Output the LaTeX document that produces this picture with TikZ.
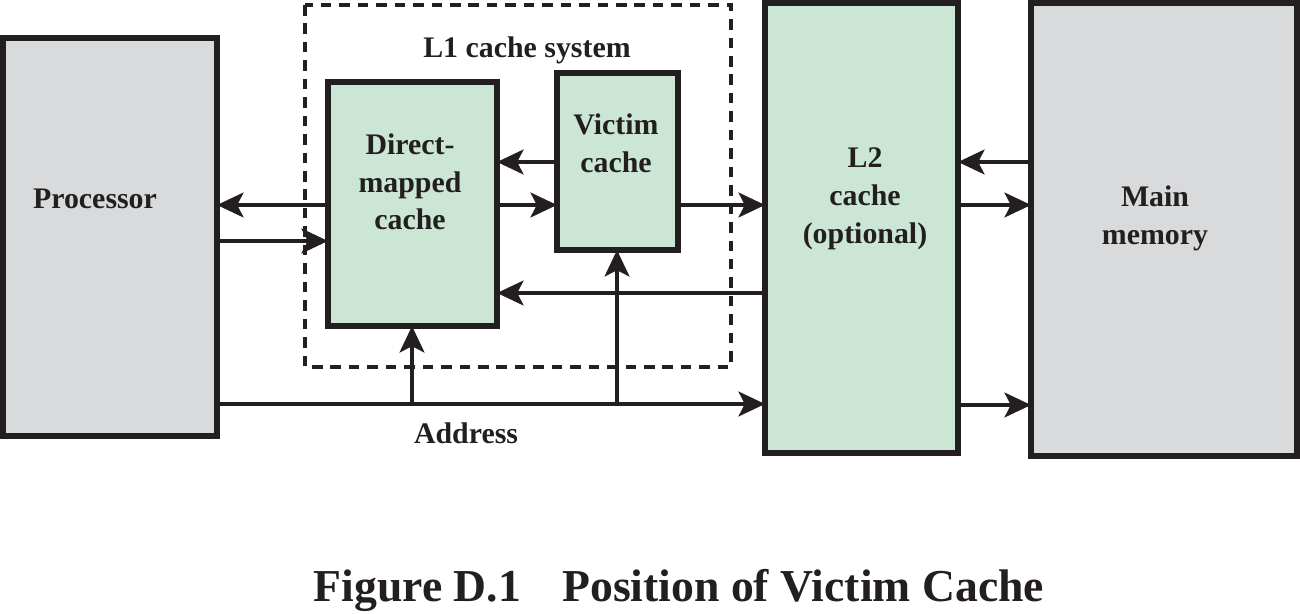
\documentclass[tikz,border=0pt]{standalone}
\usepackage{fontspec}
\setmainfont{Liberation Serif}
\usetikzlibrary{arrows.meta}
\definecolor{boxgray}{HTML}{D9DADB}
\definecolor{boxgreen}{HTML}{CCE6D6}
\definecolor{ink}{HTML}{231F20}
\begin{document}
\begin{tikzpicture}[x=0.02cm,y=-0.02cm,
  blk/.style={draw=ink,line width=3pt},
  lbl/.style={font=\fontsize{17}{21.5}\selectfont\bfseries,text=ink,align=center},
  conn/.style={draw=ink,line width=2.6pt,-{Stealth[length=15pt,width=14pt,inset=3.5pt]}},
  plain/.style={draw=ink,line width=2.6pt}]
\useasboundingbox (0,0) rectangle (1300,614);
% boxes
\draw[blk,fill=boxgray] (3,38) rectangle (217,436);
\draw[ink,line width=2.6pt,dash pattern=on 6pt off 4.5pt] (305,5) rectangle (731,367);
\draw[blk,fill=boxgreen] (328,82) rectangle (497,326);
\draw[blk,fill=boxgreen] (557,73) rectangle (678,250);
\draw[blk,fill=boxgreen] (765,3) rectangle (958,453);
\draw[blk,fill=boxgray] (1031,3) rectangle (1297,456);
% labels
\node[lbl] (proc) at (95,199) {Processor};
\node[lbl] (l1) at (527,50) {L1 cache system};
\node[lbl] (dm) at (410,182) {Direct-\\mapped\\cache};
\node[lbl] (vc) at (616,143) {Victim\\cache};
\node[lbl] (l2) at (865,199) {L2\\cache\\(optional)};
\node[lbl] (mm) at (1155,218) {Main\\memory};
\node[lbl] (addr) at (466,433) {Address};
\node[font=\fontsize{26}{32}\selectfont\bfseries,text=ink] (cap) at (679,590) {Figure D.1\hspace{0.9em}Position of Victim Cache};
% coordinates on box edges
\coordinate (pR) at (217,0);
\coordinate (dL) at (328,0);
\coordinate (dR) at (497,0);
\coordinate (vL) at (557,0);
\coordinate (vR) at (678,0);
\coordinate (l2L) at (765,0);
\coordinate (l2R) at (958,0);
\coordinate (mL) at (1031,0);
% connectors
\draw[conn] (dL|-0,205) -- (pR|-0,205);
\draw[conn] (pR|-0,241) -- (dL|-0,241);
\draw[conn] (dR|-0,205) -- (vL|-0,205);
\draw[conn] (vL|-0,162) -- (dR|-0,162);
\draw[conn] (vR|-0,205) -- (l2L|-0,205);
\draw[conn] (l2L|-0,293) -- (dR|-0,293);
\draw[conn] (mL|-0,162) -- (l2R|-0,162);
\draw[conn] (l2R|-0,205) -- (mL|-0,205);
\draw[conn] (l2R|-0,405) -- (mL|-0,405);
% address bus
\coordinate (a1) at (412,404);
\coordinate (a2) at (617,404);
\draw[conn] (pR|-0,404) -- (l2L|-0,404);
\draw[conn] (a1) -- (412,326);
\draw[conn] (a2) -- (617,250);
\end{tikzpicture}
\end{document}
